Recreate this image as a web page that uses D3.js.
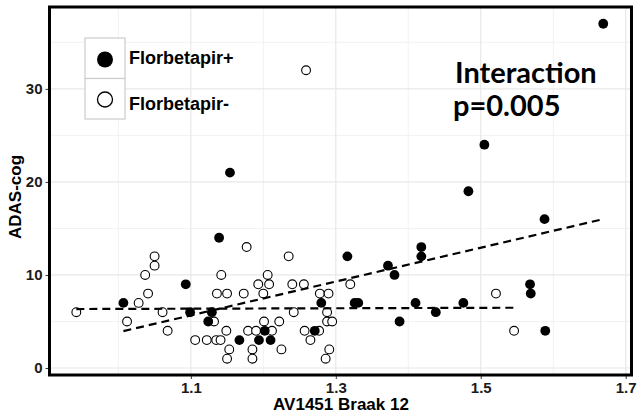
<!DOCTYPE html>
<html lang="en">
<head>
    <meta charset="UTF-8">
    <title>ADAS-cog vs AV1451 Braak 12</title>
    <script src="https://d3js.org/d3.v7.min.js"></script>
    <style>
        body { margin: 0; background: white; }
        .tick-label { font: bold 15px "Liberation Sans", Arial, sans-serif; fill: #1a1a1a; }
        .axis-title { font: bold 17px "Liberation Sans", Arial, sans-serif; fill: black; }
        .legend-text { font: bold 18px "Liberation Sans", Arial, sans-serif; fill: black; }
        .annotation-text { font-family: Lato, "Open Sans", sans-serif; font-weight: 700; font-size: 29px; fill: black; }
    </style>
</head>
<body>
<svg width="640" height="416"></svg>
<script>
    // Florbetapir+ (filled)
    const posX = [1.669, 1.505, 1.483, 1.588, 1.418, 1.154, 1.139, 1.418, 1.372, 1.381,
                  1.410, 1.388, 1.438, 1.476, 1.568, 1.569, 1.589, 1.316, 1.280, 1.326,
                  1.331, 1.271, 1.099, 1.129, 1.124, 1.167, 1.194, 1.210, 1.202, 1.007, 1.093];
    const posY = [37, 24, 19, 16, 13, 21, 14, 12, 11, 10,
                  7, 5, 6, 7, 9, 8, 4, 12, 7, 7,
                  7, 4, 6, 6, 5, 3, 3, 3, 4, 7, 9];

    // Florbetapir- (open)
    const negX = [1.259, 1.177, 1.235, 1.050, 1.050, 1.037, 1.041, 1.028, 1.061, 1.012,
                  1.068, 1.106, 0.942, 1.142, 1.206, 1.193, 1.208, 1.240, 1.136, 1.150,
                  1.173, 1.200, 1.242, 1.132, 1.149, 1.201, 1.222, 1.179, 1.190, 1.212,
                  1.122, 1.135, 1.141, 1.153, 1.150, 1.185, 1.185, 1.225, 1.256, 1.278,
                  1.290, 1.320, 1.288, 1.288, 1.295, 1.257, 1.277, 1.265, 1.291, 1.286,
                  1.521, 1.546];
    const negY = [32, 13, 12, 12, 11, 10, 8, 7, 6, 5,
                  4, 3, 6, 10, 10, 9, 9, 9, 8, 8,
                  8, 8, 6, 5, 4, 5, 5, 4, 4, 4,
                  3, 3, 3, 2, 1, 2, 1, 2, 9, 8,
                  8, 9, 6, 5, 5, 4, 4, 3, 2, 1,
                  8, 4];

    // fitted lines (end points)
    const fitPosX = [1.007, 1.669];
    const fitPosY = [3.97, 16.0];
    const fitNegX = [0.942, 1.546];
    const fitNegY = [6.34, 6.48];

    const xTicks = [1.1, 1.3, 1.5, 1.7];
    const xMinor = [1.0, 1.2, 1.4, 1.6];
    const yTicks = [0, 10, 20, 30];
    const yMinor = [5, 15, 25, 35];
    const groups = ["Florbetapir+", "Florbetapir-"];

    const pLeft = 49.5, pRight = 631.5, pTop = 7, pBottom = 375;

    const svg = d3.select("svg");

    const x = d3.scaleLinear().domain([0.905, 1.708]).range([pLeft, pRight]);
    const y = d3.scaleLinear().domain([-0.75, 38.8]).range([pBottom, pTop]);

    // grid
    const grid = svg.append("g");
    grid.selectAll(".vminor").data(xMinor).enter().append("line")
        .attr("x1", d => x(d)).attr("x2", d => x(d))
        .attr("y1", pTop).attr("y2", pBottom)
        .attr("stroke", "#f2f2f2").attr("stroke-width", 1);
    grid.selectAll(".hminor").data(yMinor).enter().append("line")
        .attr("y1", d => y(d)).attr("y2", d => y(d))
        .attr("x1", pLeft).attr("x2", pRight)
        .attr("stroke", "#f2f2f2").attr("stroke-width", 1);
    grid.selectAll(".vmajor").data(xTicks).enter().append("line")
        .attr("x1", d => x(d)).attr("x2", d => x(d))
        .attr("y1", pTop).attr("y2", pBottom)
        .attr("stroke", "#e8e8e8").attr("stroke-width", 1.2);
    grid.selectAll(".hmajor").data(yTicks).enter().append("line")
        .attr("y1", d => y(d)).attr("y2", d => y(d))
        .attr("x1", pLeft).attr("x2", pRight)
        .attr("stroke", "#e8e8e8").attr("stroke-width", 1.2);

    // axes
    const xAxis = svg.append("g")
        .attr("transform", `translate(0,${pBottom})`)
        .call(d3.axisBottom(x).tickValues(xTicks).tickSize(4).tickPadding(3).tickFormat(d3.format(".1f")));
    const yAxis = svg.append("g")
        .attr("transform", `translate(${pLeft},0)`)
        .call(d3.axisLeft(y).tickValues(yTicks).tickSize(4).tickPadding(3));
    [xAxis, yAxis].forEach(a => {
        a.select(".domain").remove();
        a.selectAll(".tick line").attr("stroke", "#333").attr("stroke-width", 1);
        a.selectAll(".tick text").attr("class", "tick-label").attr("fill", null);
    });
    xAxis.selectAll(".tick text").attr("dy", "0.7em");

    // points
    const neg = negX.map((v, i) => ({x: v, y: negY[i]}));
    const pos = posX.map((v, i) => ({x: v, y: posY[i]}));

    svg.append("g").selectAll("circle").data(neg).enter().append("circle")
        .attr("cx", d => x(d.x)).attr("cy", d => y(d.y)).attr("r", 4.4)
        .attr("fill", "white").attr("stroke", "black").attr("stroke-width", 1.1);
    svg.append("g").selectAll("circle").data(pos).enter().append("circle")
        .attr("cx", d => x(d.x)).attr("cy", d => y(d.y)).attr("r", 4.9)
        .attr("fill", "black");

    // fit lines
    const line = d3.line().x(d => x(d[0])).y(d => y(d[1]));
    [[fitPosX, fitPosY], [fitNegX, fitNegY]].forEach(([fx, fy]) => {
        svg.append("path")
            .attr("d", line(fx.map((v, i) => [v, fy[i]])))
            .attr("fill", "none")
            .attr("stroke", "black")
            .attr("stroke-width", 2.2)
            .attr("stroke-dasharray", "8,5");
    });

    // panel border
    svg.append("rect")
        .attr("x", pLeft).attr("y", pTop)
        .attr("width", pRight - pLeft).attr("height", pBottom - pTop)
        .attr("fill", "none").attr("stroke", "black").attr("stroke-width", 3);

    // legend
    const legend = svg.append("g").attr("transform", "translate(85,38)");
    legend.selectAll("rect").data(groups).enter().append("rect")
        .attr("x", 0).attr("y", (d, i) => i * 40.5)
        .attr("width", 40).attr("height", 40.5)
        .attr("fill", "white").attr("stroke", "#cccccc").attr("stroke-width", 1.2);
    legend.selectAll("circle").data(groups).enter().append("circle")
        .attr("cx", 20).attr("cy", (d, i) => 21.5 + i * 40)
        .attr("r", (d, i) => i === 0 ? 8 : 7.5)
        .attr("fill", (d, i) => i === 0 ? "black" : "white")
        .attr("stroke", "black").attr("stroke-width", (d, i) => i === 0 ? 0 : 1.3);
    legend.selectAll("text").data(groups).enter().append("text")
        .attr("class", "legend-text")
        .attr("x", 44).attr("y", (d, i) => 26 + i * 46)
        .text(d => d);

    // titles
    svg.append("text")
        .attr("class", "axis-title")
        .attr("x", 341).attr("y", 410)
        .attr("text-anchor", "middle")
        .text("AV1451 Braak 12");
    svg.append("text")
        .attr("class", "axis-title")
        .attr("transform", "translate(21,197) rotate(-90)")
        .attr("text-anchor", "middle")
        .text("ADAS-cog");

    // annotation
    svg.append("text").attr("class", "annotation-text")
        .attr("x", 455).attr("y", 83)
        .text("Interaction");
    svg.append("text").attr("class", "annotation-text")
        .attr("x", 453).attr("y", 116)
        .text("p=0.005");
</script>
</body>
</html>
